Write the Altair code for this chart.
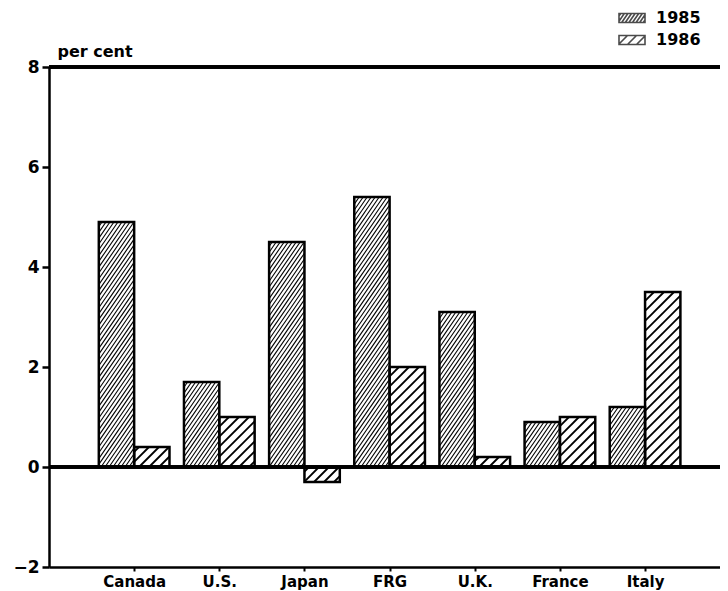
import json
import numpy as np
import pandas as pd
import altair as alt

# ---- data ----
countries = ["Canada", "U.S.", "Japan", "FRG", "U.K.", "France", "Italy"]
v1985 = [4.9, 1.7, 4.5, 5.4, 3.1, 0.9, 1.2]
v1986 = [0.4, 1.0, -0.3, 2.0, 0.2, 1.0, 3.5]
years = ["1985", "1986"]
y_ticks = [-2, 0, 2, 4, 6, 8]

# ---- layout ----
W, H = 671, 500
XMAX = 7.88  # visible part of the category axis (the frame runs off the page)
YMIN, YMAX = -2, 8
SX = W / XMAX
SY = H / (YMAX - YMIN)
BW = 0.415  # bar width in category steps
FONT = "DejaVu Sans"

HATCH = {
    "1985": dict(slope=1.45, gap=4.0, width=1.1),
    "1986": dict(slope=1.0, gap=10.0, width=1.8),
}


def hatch_segments(x0, x1, y0, y1, slope, gap):
    """Diagonal hatch lines (pixel space, y up) clipped to a rectangle."""
    segs = []
    cmin = x0 - y1 / slope
    cmax = x1 - y0 / slope
    for k in range(int(np.floor(cmin / gap)), int(np.ceil(cmax / gap)) + 1):
        c = k * gap
        xa = max(x0, c + y0 / slope)
        xb = min(x1, c + y1 / slope)
        if xb - xa > 0.3:
            segs.append((xa, slope * (xa - c), xb, slope * (xb - c)))
    return segs


# bars table
rows = []
for i, c in enumerate(countries):
    center = i + 1
    for yr, vals, off in (("1985", v1985, -1), ("1986", v1986, 0)):
        v = vals[i]
        xa = center + (BW * off)
        rows.append(dict(country=c, year=yr, x0=xa, x1=xa + BW,
                         y0=min(0, v), y1=max(0, v)))
bars = pd.DataFrame(rows)

# hatch lines derived from the bars
hrows = []
for r in rows:
    h = HATCH[r["year"]]
    for (a, b, cc, d) in hatch_segments(r["x0"] * SX, r["x1"] * SX,
                                        r["y0"] * SY, r["y1"] * SY,
                                        h["slope"], h["gap"]):
        hrows.append(dict(year=r["year"], hx=a / SX, hy=b / SY,
                          hx2=cc / SX, hy2=d / SY))
hatch = pd.DataFrame(hrows)


def legend_path(year):
    # unit = 10 px (symbol size 400); swatch 26 x 9 px
    h = HATCH[year]
    hw, hh = 13.0, 4.5
    p = "M-1.3,-0.45H1.3V0.45H-1.3Z"
    for (a, b, cc, d) in hatch_segments(-hw, hw, -hh, hh, h["slope"], h["gap"] * 0.9):
        p += f"M{a/10:.3f},{-b/10:.3f}L{cc/10:.3f},{-d/10:.3f}"
    return p


xscale = alt.Scale(domain=[0, XMAX], nice=False, zero=False)
yscale = alt.Scale(domain=[YMIN, YMAX], nice=False, zero=False)

label_expr = f"{json.dumps(countries)}[datum.value - 1]"

x_axis = alt.Axis(values=list(range(1, len(countries) + 1)), labelExpr=label_expr,
                  title=None, grid=False, tickSize=4, tickWidth=2, domainWidth=2.5,
                  domainColor="black", tickColor="black", labelColor="black",
                  labelFontSize=15, labelFontWeight="bold", labelFont=FONT,
                  labelPadding=3)
y_axis = alt.Axis(values=y_ticks, title="per cent", grid=False, tickSize=7,
                  tickWidth=2.5, domainWidth=2.5, domainColor="black", tickColor="black",
                  labelColor="black", labelFontSize=17, labelFontWeight="bold",
                  labelFont=FONT, labelPadding=3, format="d",
                  titleAngle=0, titleX=8, titleY=-8, titleAlign="left",
                  titleBaseline="bottom", titleFontSize=16, titleFontWeight="bold",
                  titleFont=FONT, titleColor="black")

base = alt.Chart(bars)

fill_layer = base.mark_rect(fill="white", stroke=None).encode(
    x=alt.X("x0:Q", scale=xscale, axis=x_axis),
    x2="x1:Q",
    y=alt.Y("y0:Q", scale=yscale, axis=y_axis),
    y2="y1:Q",
)

hatch85 = alt.Chart(hatch[hatch.year == "1985"]).mark_rule(
    color="black", strokeWidth=HATCH["1985"]["width"]).encode(
    x=alt.X("hx:Q", scale=xscale), x2="hx2:Q",
    y=alt.Y("hy:Q", scale=yscale), y2="hy2:Q")
hatch86 = alt.Chart(hatch[hatch.year == "1986"]).mark_rule(
    color="black", strokeWidth=HATCH["1986"]["width"]).encode(
    x=alt.X("hx:Q", scale=xscale), x2="hx2:Q",
    y=alt.Y("hy:Q", scale=yscale), y2="hy2:Q")

outline = base.mark_rect(fillOpacity=0, stroke="black", strokeWidth=2.5).encode(
    x=alt.X("x0:Q", scale=xscale), x2="x1:Q",
    y=alt.Y("y0:Q", scale=yscale), y2="y1:Q",
)

zero_line = alt.Chart(bars).mark_rule(color="black", strokeWidth=2.5).encode(
    y=alt.datum(0, scale=yscale))
top_line = alt.Chart(bars).mark_rule(color="black", strokeWidth=2.5).encode(
    y=alt.datum(YMAX, scale=yscale))

legend_layer = base.transform_filter("false").mark_point(
    filled=False, color="black", strokeWidth=1.6).encode(
    x=alt.X("x0:Q", scale=xscale),
    y=alt.Y("y1:Q", scale=yscale),
    shape=alt.Shape("year:N",
                    scale=alt.Scale(domain=years,
                                    range=[legend_path(y) for y in years]),
                    legend=alt.Legend(title=None, orient="none", legendX=572,
                                      legendY=-60, padding=0, symbolSize=400,
                                      symbolStrokeColor="black",
                                      symbolFillColor="white",
                                      symbolStrokeWidth=1.6, rowPadding=3,
                                      labelOffset=13, labelFontSize=16,
                                      labelFontWeight="bold", labelFont=FONT,
                                      labelColor="black")),
)

chart = alt.layer(fill_layer, hatch85, hatch86, outline, zero_line, top_line,
                  legend_layer).properties(
    width=W, height=H,
    autosize=alt.AutoSizeParams(type="none"),
    padding={"left": 41, "top": 59, "right": 0, "bottom": 24},
).configure_view(stroke=None).configure(font=FONT, background="white")

chart.save("out.html", embed_options={"renderer": "svg", "actions": False})
